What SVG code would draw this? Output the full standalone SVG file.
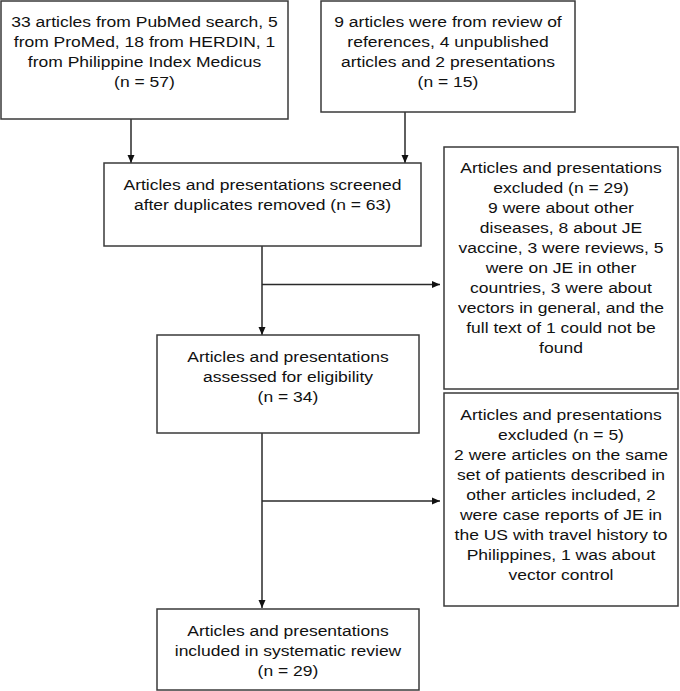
<svg xmlns="http://www.w3.org/2000/svg" width="680" height="691" viewBox="0 0 680 691">
<style>
.box{fill:#fff;stroke:#3a3a3a;stroke-width:1.5}
.ln{fill:none;stroke:#2a2a2a;stroke-width:1.5}
text{font-family:"Liberation Sans",Arial,sans-serif;font-size:15.5px;fill:#111;text-anchor:middle}
</style>
<defs>
<marker id="ah" markerUnits="userSpaceOnUse" markerWidth="8" markerHeight="8" viewBox="0 0 8 8" refX="8" refY="4" orient="auto">
<path d="M0,0.5 L8,4 L0,7.5 Z" fill="#111"/>
</marker>
</defs>
<rect width="680" height="691" fill="#fff"/>
<g id="connectors">
<line class="ln" x1="131" y1="119" x2="131" y2="163" marker-end="url(#ah)"/>
<line class="ln" x1="405" y1="112" x2="405" y2="163" marker-end="url(#ah)"/>
<line class="ln" x1="262" y1="246" x2="262" y2="335" marker-end="url(#ah)"/>
<line class="ln" x1="262" y1="284.5" x2="440" y2="284.5" marker-end="url(#ah)"/>
<line class="ln" x1="262" y1="433" x2="262" y2="608" marker-end="url(#ah)"/>
<line class="ln" x1="262" y1="501" x2="440" y2="501" marker-end="url(#ah)"/>
</g>
<g id="n1">
<rect class="box" x="1" y="1" width="287" height="118"/>
<g transform="translate(144.5,0) scale(1.13,1)">
<text x="0" y="27.5">33 articles from PubMed search, 5</text>
<text x="0" y="47.5">from ProMed, 18 from HERDIN, 1</text>
<text x="0" y="67.5">from Philippine Index Medicus</text>
<text x="0" y="87.5">(n = 57)</text>
</g>
</g>
<g id="n2">
<rect class="box" x="321" y="1" width="254" height="111"/>
<g transform="translate(448,0) scale(1.13,1)">
<text x="0" y="27.5">9 articles were from review of</text>
<text x="0" y="47.5">references, 4 unpublished</text>
<text x="0" y="67.5">articles and 2 presentations</text>
<text x="0" y="87.5">(n = 15)</text>
</g>
</g>
<g id="n3">
<rect class="box" x="104" y="163" width="317" height="83"/>
<g transform="translate(262.5,0) scale(1.13,1)">
<text x="0" y="190">Articles and presentations screened</text>
<text x="0" y="210">after duplicates removed (n = 63)</text>
</g>
</g>
<g id="n4">
<rect class="box" x="444" y="147" width="234" height="242"/>
<g transform="translate(561,0) scale(1.13,1)">
<text x="0" y="173">Articles and presentations</text>
<text x="0" y="193">excluded (n = 29)</text>
<text x="0" y="213">9 were about other</text>
<text x="0" y="233">diseases, 8 about JE</text>
<text x="0" y="253">vaccine, 3 were reviews, 5</text>
<text x="0" y="273">were on JE in other</text>
<text x="0" y="293">countries, 3 were about</text>
<text x="0" y="313">vectors in general, and the</text>
<text x="0" y="333">full text of 1 could not be</text>
<text x="0" y="353">found</text>
</g>
</g>
<g id="n5">
<rect class="box" x="157" y="335" width="262" height="98"/>
<g transform="translate(288,0) scale(1.13,1)">
<text x="0" y="362">Articles and presentations</text>
<text x="0" y="382">assessed for eligibility</text>
<text x="0" y="402">(n = 34)</text>
</g>
</g>
<g id="n6">
<rect class="box" x="444" y="393" width="234" height="213"/>
<g transform="translate(561,0) scale(1.13,1)">
<text x="0" y="420">Articles and presentations</text>
<text x="0" y="440">excluded (n = 5)</text>
<text x="0" y="460">2 were articles on the same</text>
<text x="0" y="480">set of patients described in</text>
<text x="0" y="500">other articles included, 2</text>
<text x="0" y="520">were case reports of JE in</text>
<text x="0" y="540">the US with travel history to</text>
<text x="0" y="560">Philippines, 1 was about</text>
<text x="0" y="580">vector control</text>
</g>
</g>
<g id="n7">
<rect class="box" x="157" y="609" width="262" height="81"/>
<g transform="translate(288,0) scale(1.13,1)">
<text x="0" y="636">Articles and presentations</text>
<text x="0" y="656">included in systematic review</text>
<text x="0" y="676">(n = 29)</text>
</g>
</g>
</svg>
